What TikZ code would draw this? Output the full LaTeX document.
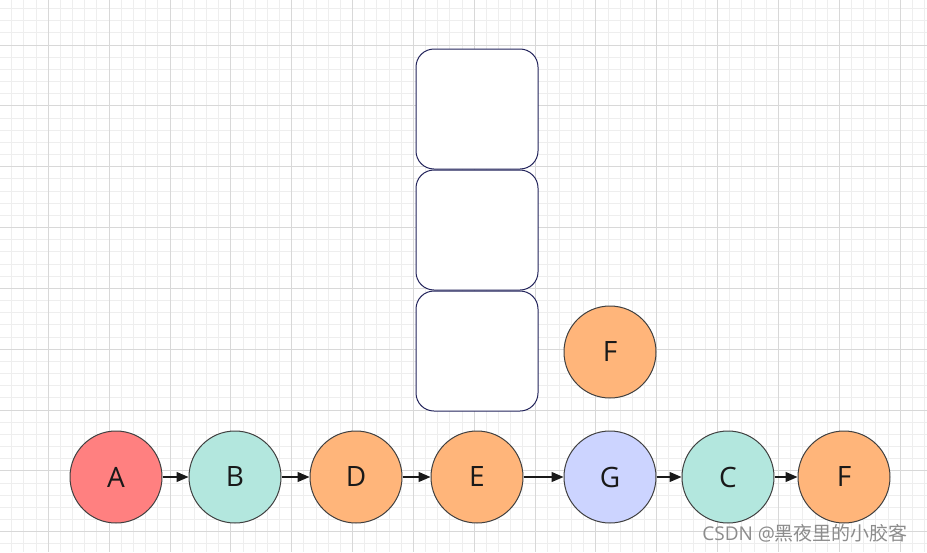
\documentclass[tikz,border=0pt]{standalone}
\usepackage{fontspec}
\setmainfont{Open Sans}
\newfontfamily\cjk{Noto Sans CJK SC}
\usetikzlibrary{arrows.meta, positioning}
\definecolor{redfill}{RGB}{255,128,128}
\definecolor{mintfill}{RGB}{179,231,222}
\definecolor{orangefill}{RGB}{255,181,122}
\definecolor{bluefill}{RGB}{204,212,255}
\definecolor{boxline}{RGB}{35,36,91}
\definecolor{gridminor}{RGB}{238,238,238}
\definecolor{gridmajor}{RGB}{216,216,216}

\begin{document}
\begin{tikzpicture}[
  x=0.5pt, y=-0.5pt,
  vertex/.style={circle, draw=black!75, line width=0.5pt, minimum size=46pt, inner sep=0pt,
    font=\fontsize{14}{16}\selectfont, text=black!90},
  slot/.style={rectangle, draw=boxline, line width=0.5pt, fill=white, minimum width=61pt,
    minimum height=60pt, rounded corners=9pt},
  arrow/.style={-{Triangle[length=6pt, width=5pt]}, line width=0.6pt, color=black!90},
]
  \useasboundingbox (0,0) rectangle (927,552);
  \fill[white] (0,0) rectangle (927,552);

  % background grid
  \foreach \k in {-3,...,72} {
    \draw[gridminor, line width=0.5pt] ({48.3+12.17*\k},0) -- ({48.3+12.17*\k},552);
  }
  \foreach \k in {-3,...,42} {
    \draw[gridminor, line width=0.5pt] (0,{45+12.17*\k}) -- (927,{45+12.17*\k});
  }
  \foreach \k in {0,...,14} {
    \draw[gridmajor, line width=0.5pt] ({48.3+60.85*\k},0) -- ({48.3+60.85*\k},552);
  }
  \foreach \k in {-1,...,8} {
    \draw[gridmajor, line width=0.5pt] (0,{45+60.85*\k}) -- (927,{45+60.85*\k});
  }

  % sequence
  \node[vertex, fill=redfill] (A) at (116,477) {A};
  \node[vertex, fill=mintfill, right=13pt of A] (B) {B};
  \node[vertex, fill=orangefill, right=14pt of B] (D) {D};
  \node[vertex, fill=orangefill, right=14pt of D] (E) {E};
  \node[vertex, fill=bluefill, right=20pt of E] (G) {G};
  \node[vertex, fill=mintfill, right=12.5pt of G] (C) {C};
  \node[vertex, fill=orangefill, right=11.5pt of C] (F) {F};

  \draw[arrow] (A) -- (B);
  \draw[arrow] (B) -- (D);
  \draw[arrow] (D) -- (E);
  \draw[arrow] (E) -- (G);
  \draw[arrow] (G) -- (C);
  \draw[arrow] (C) -- (F);

  % stack
  \node[slot, above=9.5pt of E] (slot1) {};
  \node[slot, above=0pt of slot1] (slot2) {};
  \node[slot, above=0pt of slot2] (slot3) {};

  \node[vertex, fill=orangefill, above=16pt of G] (Fup) {F};

  % watermark
  \node[anchor=east, text=black!45, font=\fontsize{9.5}{11}\selectfont] (mark) at (915,533)
    {CSDN @\cjk 黑夜里的小胶客};
\end{tikzpicture}
\end{document}
